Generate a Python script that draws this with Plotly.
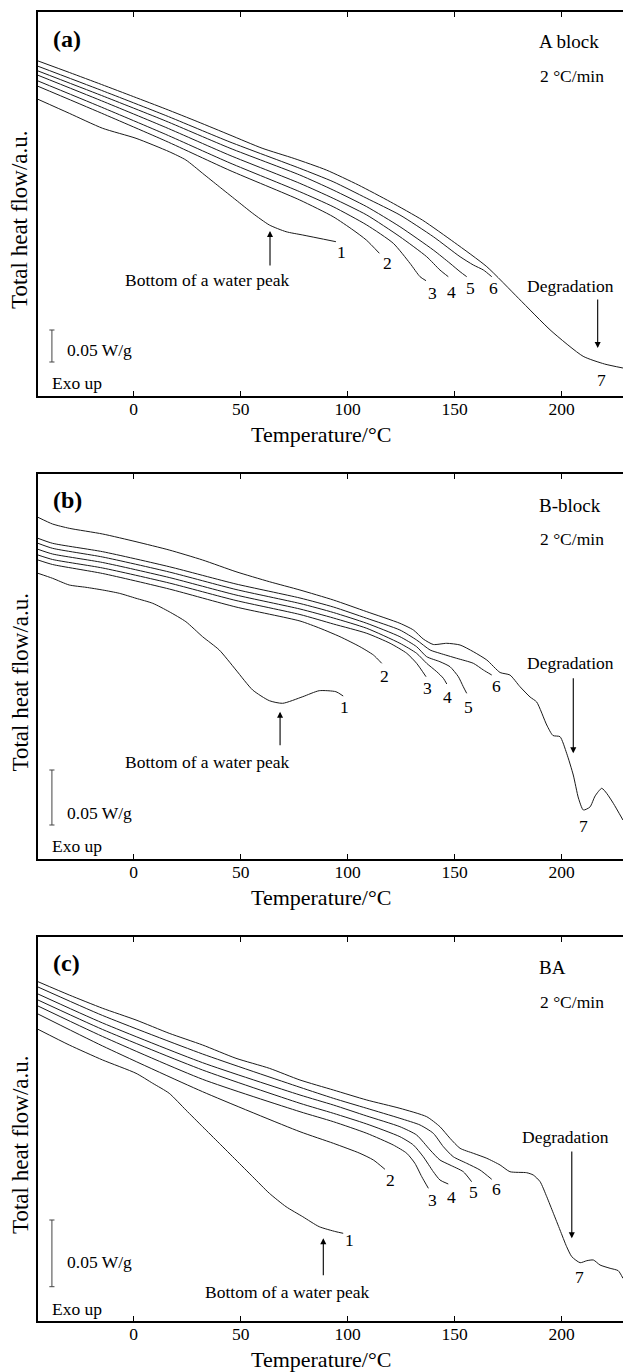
import plotly.graph_objects as go

# ---------------- data (temperature in °C, heat flow in arbitrary units) ----------------
X_TICKS = [0, 50, 100, 150, 200]
X_RANGE = [-44.7, 228.6]

# Panel (a) A block
a_T7 = [-45, -30, -15, 0, 15, 30, 45, 60, 75, 90, 105, 120, 135, 150, 165, 180, 195, 210, 220, 228.6]
a_Q7 = [335.3, 323.5, 311.5, 299.3, 287, 274.2, 261, 247.8, 237.5, 226, 211, 194.1, 175.8, 153.3, 129.3, 97.3, 65.3, 39.7, 32, 28]
a_T6 = [-45, -15, 15, 45, 77.6, 93.2, 108.9, 124.4, 140, 152.5, 158.7, 163.4, 167.3]
a_Q6 = [330, 305.6, 280.5, 254, 227.7, 214.3, 197.7, 181, 159.3, 139.3, 131, 126, 119.3]
a_T5 = [-45, -15, 15, 45, 77.6, 93.2, 108.9, 124.4, 140, 147.8, 152.5, 155.6]
a_Q5 = [325.3, 300.5, 275, 247.8, 221, 206, 189.3, 169.3, 146, 132.7, 124.3, 119.3]
a_T4 = [-45, -15, 15, 45, 77.6, 93.2, 108.9, 124.4, 136.9, 143.1, 147]
a_Q4 = [321, 295.2, 268.6, 240.6, 212.7, 197.7, 181, 159.3, 139.3, 126, 119.3]
a_T3 = [-45, -15, 15, 45, 77.6, 93.2, 108.9, 121.3, 129.1, 133.8, 136.6]
a_Q3 = [315.3, 288.8, 261.6, 233, 204.3, 189.3, 171, 152.7, 132.7, 119.3, 115.3]
a_T2 = [-45, -15, 15, 45, 77.6, 93.2, 102.5, 108.7, 114.8]
a_Q2 = [310, 282.8, 255, 225.5, 196, 179.3, 166, 156, 142.7]
a_T1 = [-44.7, -30.1, -14.5, 1.1, 16.6, 24.4, 32.2, 40, 47.8, 55.6, 63.4, 71.2, 79, 94.5]
a_Q1 = [296.7, 282.7, 267.7, 257.7, 244.3, 236, 222.7, 209.3, 196, 182.7, 171, 164.3, 161, 154.3]

# Panel (b) B-block
b_T7 = [-44.7, -37.9, -30.1, -14.5, 1.1, 16.6, 32.2, 47.8, 63.4, 77.7, 93.3, 108.9, 124.4, 130.7, 135.3,
        140.0, 146.3, 152.5, 158.7, 165.0, 171.2, 175.8, 180.5, 185.2, 188.3, 193.0, 195.9, 199.2, 202.3,
        205.4, 207.8, 210.1, 213.2, 215.6, 218.7, 221.0, 224.1, 228.6]
b_Q7 = [341.7, 335, 330.7, 325, 317.3, 309, 299, 287.3, 277.3, 269, 259, 247.3, 235.7, 229, 220,
        214.5, 215.7, 214, 207.3, 199, 186.5, 184, 172.3, 162, 157, 134, 123.5, 122.3, 105.7,
        84, 61, 49, 52, 63, 70.7, 65.7, 55.7, 39]
b_T6 = [-44.7, -37.9, -14.5, 16.6, 47.8, 77.7, 93.3, 108.9, 124.4, 132.2, 138.5, 143.1, 150.9, 158.7, 163.4, 167.3]
b_Q6 = [320.7, 315.7, 307.3, 292.3, 275, 261, 252, 240.7, 229, 219, 209, 205.7, 200.7, 195.7, 189, 184]
b_T5 = [-44.7, -37.9, -14.5, 16.6, 47.8, 77.7, 93.3, 108.9, 124.4, 132.2, 136.9, 143.1, 147.8, 151.7, 154.0, 155.6]
b_Q5 = [315.7, 310.7, 302, 287, 269.5, 255.5, 246.5, 235.7, 222.3, 212.3, 202.3, 197.3, 192.3, 182.3, 172.3, 165.7]
b_T4 = [-44.7, -37.9, -14.5, 16.6, 47.8, 77.7, 93.3, 108.9, 124.4, 132.2, 136.9, 141.6, 144.7, 146.3]
b_Q4 = [309.7, 305, 296.5, 281.5, 264, 250, 241, 230.7, 215.7, 205.7, 195.7, 187.3, 180.7, 175]
b_T3 = [-44.7, -37.9, -14.5, 16.6, 47.8, 77.7, 93.3, 108.9, 119.8, 127.6, 132.2, 136.6]
b_Q3 = [304, 299.5, 291, 276, 258.5, 244.5, 235, 225.7, 215.7, 205.7, 195.7, 182.3]
b_T2 = [-44.7, -37.9, -14.5, 16.6, 47.8, 77.7, 87.1, 96.4, 105.7, 112.0, 115.9]
b_Q2 = [299, 294.5, 285.5, 270, 252, 238, 230.7, 222.3, 212.3, 204, 195.7]
b_T1 = [-44.7, -37.9, -30.1, -22.3, -14.5, -6.7, 1.1, 8.9, 16.6, 24.4, 32.2, 40.0, 47.8, 55.6, 63.4,
        69.6, 79.0, 86.7, 94.5, 97.9]
b_Q1 = [285.7, 280.7, 274, 271.7, 269, 265.7, 260.7, 255.7, 247.3, 237.3, 222.3, 209, 189, 169, 158.3,
        155.7, 162.3, 168.3, 167.3, 163]

# Panel (c) BA
c_T7 = [-44.7, -30.1, -14.5, 1.1, 16.6, 32.2, 47.8, 63.4, 77.7, 93.3, 108.9, 124.4, 136.9, 143.1, 147.8,
        152.5, 158.7, 165.0, 171.2, 175.8, 183.6, 186.7, 189.9, 193.0, 196.1, 199.2, 202.3, 204.7, 208.6,
        211.7, 214.8, 217.9, 222.6, 226.4, 228.6]
c_Q7 = [339.3, 326, 312.7, 301, 287.7, 276, 262.7, 252.7, 241, 231, 221, 212.7, 204.3, 194.3, 182.7,
        172.7, 167.7, 162.7, 156, 149.3, 148.3, 146, 139.3, 124.3, 107.7, 91, 74.3, 64.3, 58.3,
        60.3, 61, 56, 52.7, 50.3, 42.7]
c_T6 = [-44.7, -14.5, 32.2, 77.7, 93.3, 108.9, 124.4, 133.8, 140.0, 144.7, 149.3, 155.6, 161.8, 167.3]
c_Q6 = [334, 305.5, 267, 233.7, 222.7, 212.7, 202.7, 196, 187.7, 174.3, 164.3, 157.7, 151, 141.7]
c_T5 = [-44.7, -14.5, 32.2, 77.7, 93.3, 108.9, 124.4, 132.2, 138.5, 143.1, 147.8, 154.0, 157.9]
c_Q5 = [327, 298, 258.3, 226, 216, 205, 194.3, 186, 171, 161, 156, 149.3, 139.3]
c_T4 = [-44.7, -14.5, 32.2, 77.7, 93.3, 108.9, 124.4, 130.7, 135.3, 140.0, 143.1, 147.0]
c_Q4 = [321, 291.5, 251, 217.7, 207.7, 197, 184.3, 176, 164.3, 149.3, 141, 137]
c_T3 = [-44.7, -14.5, 32.2, 77.7, 93.3, 108.9, 121.3, 127.6, 131.4, 134.6, 137.7]
c_Q3 = [315, 284.5, 241.7, 209.3, 199.3, 187.7, 176, 167.7, 157.7, 144.3, 132.7]
c_T2 = [-44.7, -14.5, 32.2, 77.7, 93.3, 105.7, 112.0, 117.4]
c_Q2 = [307, 275, 229.3, 189.3, 177.7, 167.7, 161, 151.7]
c_T1 = [-44.7, -30.1, -14.5, 1.1, 8.9, 16.6, 24.4, 32.2, 40.0, 47.8, 55.6, 63.4, 71.2, 79.0, 86.7, 94.5, 97.9]
c_Q1 = [291.7, 276, 261, 247.7, 237.7, 227.7, 211, 194.3, 177.7, 161, 144.3, 127.7, 114.3, 104.3, 94.3, 89.3, 87.7]

PANEL_TAGS = ["(a)", "(b)", "(c)"]
SAMPLES = ["A block", "B-block", "BA"]
RATE = "2 °C/min"
SCALE_TEXT = "0.05 W/g"
X_TITLE = "Temperature/°C"
Y_TITLE = "Total heat flow/a.u."

# ---------------- figure ----------------
FONT = "Liberation Serif, Times New Roman, serif"
W, H = 623, 1372
LEFT = 38
panels_px = [(12, 396), (474, 859), (937, 1321)]  # top, bottom in page pixels

curves = [
    [(a_T1, a_Q1), (a_T2, a_Q2), (a_T3, a_Q3), (a_T4, a_Q4), (a_T5, a_Q5), (a_T6, a_Q6), (a_T7, a_Q7)],
    [(b_T1, b_Q1), (b_T2, b_Q2), (b_T3, b_Q3), (b_T4, b_Q4), (b_T5, b_Q5), (b_T6, b_Q6), (b_T7, b_Q7)],
    [(c_T1, c_Q1), (c_T2, c_Q2), (c_T3, c_Q3), (c_T4, c_Q4), (c_T5, c_Q5), (c_T6, c_Q6), (c_T7, c_Q7)],
]

num_pos = [
    [(97.2, 144.3), (118.5, 132.7), (139.5, 103.3), (148.3, 104), (157.2, 107.7), (168, 107.7), (218.7, 16)],
    [(98.7, 152.3), (117.4, 183), (137.4, 170.7), (146.5, 162.3), (156.4, 152.3), (169.3, 173), (210.1, 33.3)],
    [(100.7, 81), (119.8, 141), (139.7, 121), (148.3, 124.3), (159, 128.7), (169.3, 132), (208.2, 44.3)],
]
water = [(63.7, 165, 129, 34.7, 116), (68.4, 147.3, 112.3, 34.5, 97.3), (88.6, 82.7, 44.3, 71.9, 29.3)]
degr = [(216.8, 98, 48, 204.2, 110), (205.4, 182.3, 105.7, 203.9, 196.3), (204.7, 171, 82.7, 201.9, 184.3)]
scale = [(-38.2, 66, 34, 46), (-38.2, 89, 34, 45.7), (-38.2, 101, 34.3, 59.3)]
tag_y = [357, 359, 357.7]
sample_y = [354, 353.3, 353.3]
rate_y = [320, 319.7, 319.3]
exo_y = [13, 13, 12]

fig = go.Figure()
annotations = []
shapes = []
layout = {}
SMALL = 17.5

for i in range(3):
    top, bot = panels_px[i]
    xa = "xaxis" if i == 0 else f"xaxis{i+1}"
    ya = "yaxis" if i == 0 else f"yaxis{i+1}"
    xr = "x" if i == 0 else f"x{i+1}"
    yr = "y" if i == 0 else f"y{i+1}"
    height = bot - top
    layout[xa] = dict(
        domain=[LEFT / W, 0.9999], range=X_RANGE, anchor=yr,
        tickvals=X_TICKS, ticks="inside", ticklen=5, tickwidth=1, tickcolor="black",
        showline=True, linecolor="black", linewidth=1.6, mirror="ticks",
        showgrid=False, zeroline=False, ticklabelstandoff=-4,
        tickfont=dict(family=FONT, size=SMALL, color="black"),
    )
    layout[ya] = dict(
        domain=[1 - bot / H, 1 - top / H], range=[0, height], anchor=xr,
        showticklabels=False, ticks="", showline=True, linecolor="black", linewidth=1.6,
        showgrid=False, zeroline=False,
    )
    for (tx, qy) in curves[i]:
        fig.add_trace(go.Scatter(x=tx, y=qy, xaxis=xr, yaxis=yr, mode="lines",
                                 line=dict(color="#1a1a1a", width=1, shape="spline", smoothing=0.6),
                                 showlegend=False, hoverinfo="skip"))
    tf = dict(family=FONT, color="black")
    annotations.append(dict(x=-38.4, y=tag_y[i], xref=xr, yref=yr, text=f"<b>{PANEL_TAGS[i]}</b>",
                            showarrow=False, xanchor="left", yanchor="middle", font=dict(tf, size=24)))
    annotations.append(dict(x=188.6, y=sample_y[i], xref=xr, yref=yr, text=SAMPLES[i],
                            showarrow=False, xanchor="left", yanchor="middle", font=dict(tf, size=19)))
    annotations.append(dict(x=189, y=rate_y[i], xref=xr, yref=yr, text=RATE,
                            showarrow=False, xanchor="left", yanchor="middle", font=dict(tf, size=SMALL)))
    annotations.append(dict(x=-39.1, y=exo_y[i], xref=xr, yref=yr, text="Exo up",
                            showarrow=False, xanchor="left", yanchor="middle", font=dict(tf, size=SMALL)))
    sx, s_top, s_bot, s_ty = scale[i]
    shapes.append(dict(type="line", xref=xr, yref=yr, x0=sx, x1=sx, y0=s_bot, y1=s_top,
                       line=dict(color="#444", width=1)))
    for yy in (s_bot, s_top):
        shapes.append(dict(type="line", xref=xr, yref=yr, x0=sx - 1.2, x1=sx + 1.2, y0=yy, y1=yy,
                           line=dict(color="#444", width=1)))
    annotations.append(dict(x=-32.3, y=s_ty, xref=xr, yref=yr, text=SCALE_TEXT,
                            showarrow=False, xanchor="left", yanchor="middle", font=dict(tf, size=SMALL)))
    for k, (nx, ny) in enumerate(num_pos[i]):
        annotations.append(dict(x=nx, y=ny, xref=xr, yref=yr, text=str(k + 1),
                                showarrow=False, xanchor="center", yanchor="middle", font=dict(tf, size=SMALL)))
    wx, wh, wt, wtx, wty = water[i]
    annotations.append(dict(x=wx, y=wh, ax=wx, ay=wt, xref=xr, yref=yr, axref=xr, ayref=yr, text="",
                            showarrow=True, arrowhead=2, arrowsize=1.1, arrowwidth=1.1, arrowcolor="black"))
    annotations.append(dict(x=wtx, y=wty, xref=xr, yref=yr, text="Bottom of a water peak",
                            showarrow=False, xanchor="center", yanchor="middle", font=dict(tf, size=SMALL)))
    dx, dt, dh, dtx, dty = degr[i]
    annotations.append(dict(x=dx, y=dh, ax=dx, ay=dt, xref=xr, yref=yr, axref=xr, ayref=yr, text="",
                            showarrow=True, arrowhead=2, arrowsize=1.1, arrowwidth=1.1, arrowcolor="black"))
    annotations.append(dict(x=dtx, y=dty, xref=xr, yref=yr, text="Degradation",
                            showarrow=False, xanchor="center", yanchor="middle", font=dict(tf, size=SMALL)))
    annotations.append(dict(x=(248 + 393) / 2 / W, y=1 - (bot + 38) / H, xref="paper", yref="paper",
                            text=X_TITLE, showarrow=False, xanchor="center", yanchor="middle",
                            font=dict(tf, size=22)))
    annotations.append(dict(x=20 / W, y=1 - ((top + bot) / 2 + 16) / H, xref="paper", yref="paper",
                            text=Y_TITLE, textangle=-90, showarrow=False, xanchor="center",
                            yanchor="middle", font=dict(tf, size=23)))

fig.update_layout(
    width=W, height=H, margin=dict(l=0, r=0, t=0, b=0),
    paper_bgcolor="white", plot_bgcolor="white",
    annotations=annotations, shapes=shapes, showlegend=False,
    **layout,
)
fig.write_html("out.html", config={"displayModeBar": False},
               post_script="document.body.style.margin='0';document.body.style.overflow='hidden';")
